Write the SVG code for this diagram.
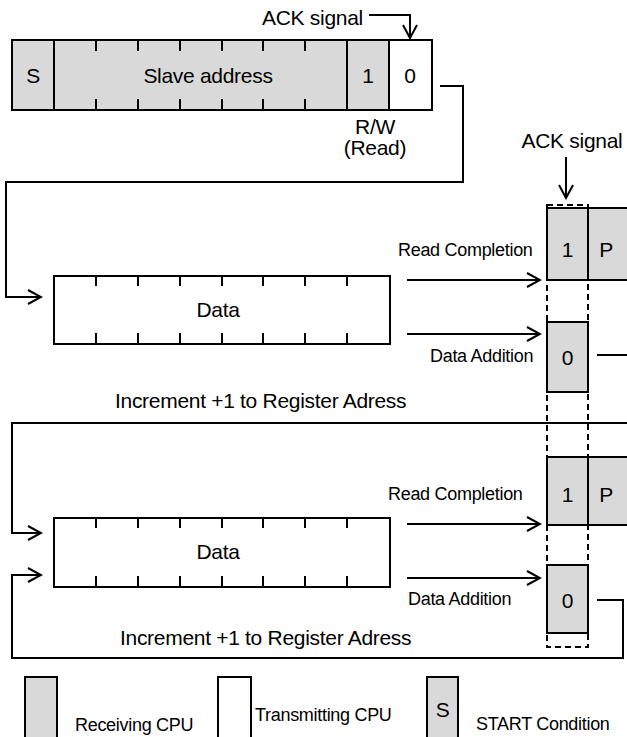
<svg xmlns="http://www.w3.org/2000/svg" width="627" height="737" viewBox="0 0 627 737">
<style>
.cell{stroke:#000;stroke-width:2}
.g{fill:#d9d9d9}
.w{fill:#fff}
.ln{fill:none;stroke:#000;stroke-width:2}
.t{font-family:"Liberation Sans",Arial,sans-serif;font-size:21px;letter-spacing:-0.3px;fill:#000}
.s{font-family:"Liberation Sans",Arial,sans-serif;font-size:18px;letter-spacing:-0.3px;fill:#000}
.m{text-anchor:middle}
.dash{fill:none;stroke:#000;stroke-width:2;stroke-dasharray:6 4}
</style>
<defs>
<marker id="arr" viewBox="-16 -10 18 20" refX="0" refY="0" markerWidth="18" markerHeight="20" markerUnits="userSpaceOnUse" orient="auto">
<path d="M-13,-7 L0,0 L-13,7" fill="none" stroke="#000" stroke-width="2"/>
</marker>
</defs>
<rect width="627" height="737" fill="#fff"/>

<g id="dashed-ack">
<rect class="dash" x="547" y="205" width="41" height="442"/>
</g>

<g id="connectors">
<path class="ln" d="M369,15 H410 V38" marker-end="url(#arr)"/>
<path class="ln" d="M566,157 V198" marker-end="url(#arr)"/>
<path class="ln" d="M440,86 H463 V182 H6 V297 H41" marker-end="url(#arr)"/>
<path class="ln" d="M407,280 H540" marker-end="url(#arr)"/>
<path class="ln" d="M407,334 H540" marker-end="url(#arr)"/>
<path class="ln" d="M597,355 H630"/>
<path class="ln" d="M630,423 H12 V533 H41" marker-end="url(#arr)"/>
<path class="ln" d="M407,524 H540" marker-end="url(#arr)"/>
<path class="ln" d="M407,578 H540" marker-end="url(#arr)"/>
<path class="ln" d="M597,600 H623 V658 H12 V575 H41" marker-end="url(#arr)"/>
</g>

<g id="ack-label-1">
<text class="t" x="262" y="25">ACK signal</text>
</g>
<g id="ack-label-2">
<text class="t m" x="572" y="148">ACK signal</text>
</g>

<g id="address-frame">
<rect class="cell g" x="12" y="40" width="42" height="70"/>
<text class="t m" x="33" y="83">S</text>
<rect class="cell g" x="54" y="40" width="293" height="70"/>
<path class="ln" d="M96,40v11M138,40v11M180,40v11M222,40v11M263,40v11M305,40v11M96,110v-11M138,110v-11M180,110v-11M222,110v-11M263,110v-11M305,110v-11"/>
<text class="t m" x="208" y="83">Slave address</text>
<rect class="cell g" x="347" y="40" width="42" height="70"/>
<text class="t m" x="368" y="83">1</text>
<rect class="cell w" x="389" y="40" width="43" height="70"/>
<text class="t m" x="410" y="83">0</text>
</g>

<g id="rw-label">
<text class="t m" x="375" y="134">R/W</text>
<text class="t m" x="375" y="155">(Read)</text>
</g>

<g id="data-1">
<rect class="cell w" x="54" y="276" width="336" height="68"/>
<path class="ln" d="M96,276v10M138,276v10M180,276v10M222,276v10M263,276v10M305,276v10M347,276v10M96,344v-11M138,344v-11M180,344v-11M222,344v-11M263,344v-11M305,344v-11M347,344v-11"/>
<text class="t m" x="218" y="317">Data</text>
</g>

<g id="labels-1">
<text class="s" x="398" y="256">Read Completion</text>
<text class="s" x="430" y="362">Data Addition</text>
<text class="t" x="115" y="408">Increment +1 to Register Adress</text>
</g>

<g id="ack-1-1">
<rect class="cell g" x="547" y="208" width="41" height="72"/>
<text class="t m" x="567.5" y="257">1</text>
</g>
<g id="stop-1">
<rect class="cell g" x="588" y="208" width="50" height="72"/>
<text class="t m" x="606" y="257">P</text>
</g>
<g id="ack-0-1">
<rect class="cell g" x="547" y="322" width="41" height="70"/>
<text class="t m" x="567.5" y="365">0</text>
</g>

<g id="data-2">
<rect class="cell w" x="54" y="518" width="336" height="69"/>
<path class="ln" d="M96,518v10M138,518v10M180,518v10M222,518v10M263,518v10M305,518v10M347,518v10M96,587v-11M138,587v-11M180,587v-11M222,587v-11M263,587v-11M305,587v-11M347,587v-11"/>
<text class="t m" x="218" y="559">Data</text>
</g>

<g id="labels-2">
<text class="s" x="388" y="500">Read Completion</text>
<text class="s" x="408" y="605">Data Addition</text>
<text class="t" x="120" y="645">Increment +1 to Register Adress</text>
</g>

<g id="ack-1-2">
<rect class="cell g" x="547" y="457" width="41" height="68"/>
<text class="t m" x="567.5" y="502">1</text>
</g>
<g id="stop-2">
<rect class="cell g" x="588" y="457" width="50" height="68"/>
<text class="t m" x="606" y="502">P</text>
</g>
<g id="ack-0-2">
<rect class="cell g" x="547" y="565" width="41" height="68"/>
<text class="t m" x="567.5" y="608">0</text>
</g>

<g id="legend-receiving">
<rect class="cell g" x="25" y="677" width="32" height="64"/>
<text class="s" x="75" y="731">Receiving CPU</text>
</g>
<g id="legend-transmitting">
<rect class="cell w" x="218" y="677" width="33" height="64"/>
<text class="s" x="255" y="721">Transmitting CPU</text>
</g>
<g id="legend-start">
<rect class="cell g" x="427" y="677" width="31" height="64"/>
<text class="t m" x="442.5" y="717">S</text>
<text class="s" x="476" y="730">START Condition</text>
</g>
</svg>
